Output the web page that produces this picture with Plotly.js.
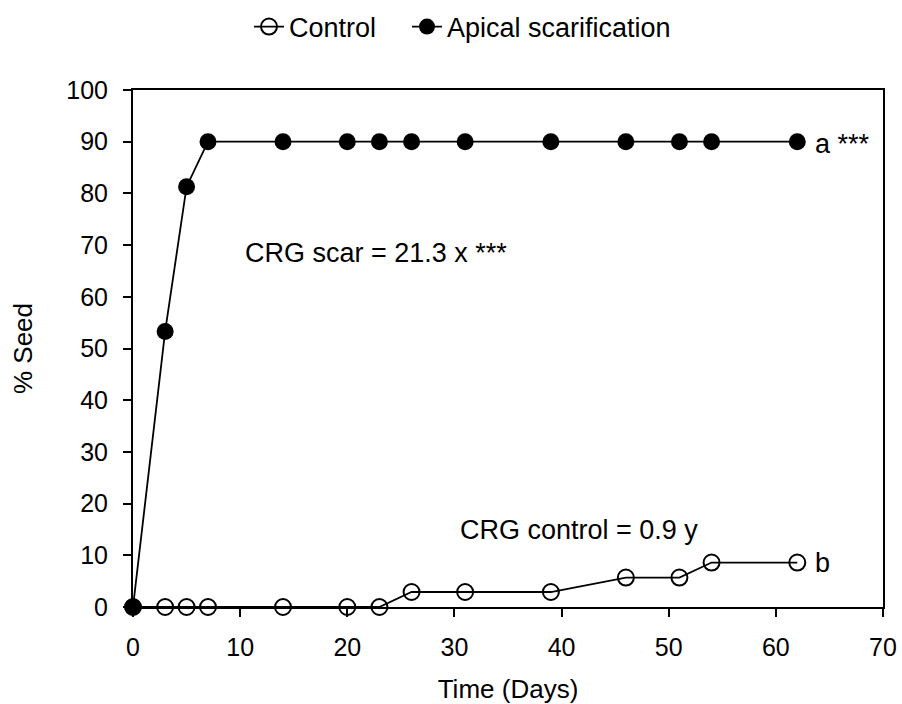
<!DOCTYPE html>
<html>
<head>
<meta charset="utf-8">
<script src="https://cdn.plot.ly/plotly-3.0.1.min.js"></script>
<style>html,body{margin:0;padding:0;background:#fff;}</style>
</head>
<body>
<div id="chart" style="width:902px;height:704px;"></div>
<script>
const controlDays = [0, 3, 5, 7, 14, 20, 23, 26, 31, 39, 46, 51, 54, 62];
const controlSeed = [0, 0, 0, 0, 0, 0, 0, 2.9, 2.9, 2.9, 5.7, 5.7, 8.6, 8.6];
const scarDays = [0, 3, 5, 7, 14, 20, 23, 26, 31, 39, 46, 51, 54, 62];
const scarSeed = [0, 53.3, 81.3, 90, 90, 90, 90, 90, 90, 90, 90, 90, 90, 90];
const xTicks = [0, 10, 20, 30, 40, 50, 60, 70];
const yTicks = [0, 10, 20, 30, 40, 50, 60, 70, 80, 90, 100];

const F = (s) => ({family: 'Liberation Sans, Arial, sans-serif', color: '#000', size: s});

const traces = [
  {
    x: controlDays, y: controlSeed, name: 'Control', mode: 'lines+markers',
    legend: 'legend',
    line: {color: '#000', width: 1.8},
    marker: {symbol: 'circle-open', size: 16, color: '#000', line: {width: 2, color: '#000'}},
    cliponaxis: false
  },
  {
    x: scarDays, y: scarSeed, name: 'Apical scarification', mode: 'lines+markers',
    legend: 'legend2',
    line: {color: '#000', width: 1.8},
    marker: {symbol: 'circle', size: 17, color: '#000'},
    cliponaxis: false
  }
];

const legendBase = {orientation: 'h', xref: 'container', xanchor: 'left',
  y: 1 - 27/704, yref: 'container', yanchor: 'middle', font: F(27), itemwidth: 30,
  bgcolor: 'rgba(0,0,0,0)'};

const layout = {
  width: 902, height: 704,
  paper_bgcolor: '#fff', plot_bgcolor: '#fff',
  margin: {l: 133, r: 19, t: 90, b: 97},
  font: F(25),
  showlegend: true,
  legend: Object.assign({}, legendBase, {x: 249/902}),
  legend2: Object.assign({}, legendBase, {x: 407/902}),
  xaxis: {
    range: [0, 70], tickvals: xTicks, ticks: 'outside', ticklen: 8, tickwidth: 2,
    tickcolor: '#000', showline: true, linecolor: '#000', linewidth: 2, mirror: true,
    showgrid: false, zeroline: false, tickfont: F(25), automargin: false,
    ticklabelstandoff: 9,
    title: {text: 'Time (Days)', font: F(26), standoff: 22}
  },
  yaxis: {
    range: [0, 100], tickvals: yTicks, ticks: 'outside', ticklen: 8, tickwidth: 2,
    tickcolor: '#000', showline: true, linecolor: '#000', linewidth: 2, mirror: true,
    showgrid: false, zeroline: false, tickfont: F(25), automargin: false,
    ticklabelstandoff: 10,
    title: {text: '% Seed', font: F(26), standoff: 26}
  },
  annotations: [
    {x: 10.3, y: 68.5, xref: 'x', yref: 'y', text: 'CRG scar = 21.3 x ***', showarrow: false,
     xanchor: 'left', yanchor: 'middle', font: F(27)},
    {x: 30.3, y: 14.8, xref: 'x', yref: 'y', text: 'CRG control = 0.9 y', showarrow: false,
     xanchor: 'left', yanchor: 'middle', font: F(27)},
    {x: 63.5, y: 89.5, xref: 'x', yref: 'y', text: 'a ***', showarrow: false,
     xanchor: 'left', yanchor: 'middle', font: F(27)},
    {x: 63.5, y: 8.6, xref: 'x', yref: 'y', text: 'b', showarrow: false,
     xanchor: 'left', yanchor: 'middle', font: F(27)}
  ]
};

Plotly.newPlot('chart', traces, layout, {displayModeBar: false, staticPlot: true});
</script>
</body>
</html>
